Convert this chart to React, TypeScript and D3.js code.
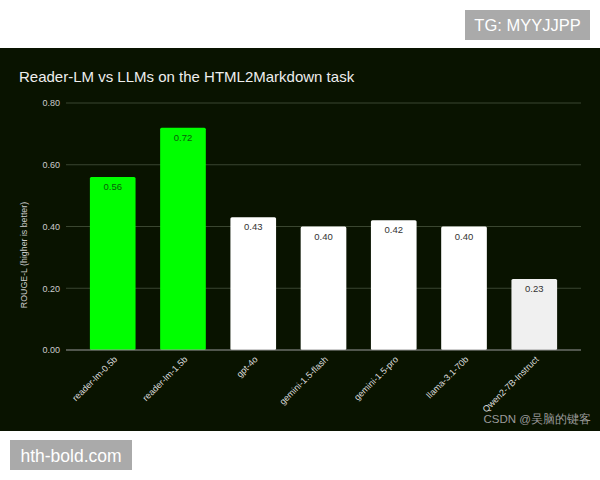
import * as d3 from "d3"
import React from "react"

const models = [
  "reader-lm-0.5b",
  "reader-lm-1.5b",
  "gpt-4o",
  "gemini-1.5-flash",
  "gemini-1.5-pro",
  "llama-3.1-70b",
  "Qwen2-7B-Instruct",
]
const scores = [0.56, 0.72, 0.43, 0.40, 0.42, 0.40, 0.23]
const barColors = ["#00ff00", "#00ff00", "#ffffff", "#ffffff", "#ffffff", "#ffffff", "#f0f0f0"]
const yTicks = [0, 0.2, 0.4, 0.6, 0.8]

const font = "Arial, 'Liberation Sans', Helvetica, sans-serif"

const drawChart = (el: SVGSVGElement) => {
  const width = 600
  const height = 480
  const svg = d3.select(el)
  svg.selectAll("*").remove()

  // white page, dark chart panel
  svg.append("rect").attr("width", width).attr("height", height).attr("fill", "#ffffff")
  svg.append("rect").attr("x", 0).attr("y", 48).attr("width", width).attr("height", 383).attr("fill", "#091300")

  const x = d3.scaleBand<string>()
    .domain(models)
    .range([66, 581])
    .paddingInner(0.35)
    .paddingOuter(0.34)

  const y = d3.scaleLinear().domain([0, 0.8]).range([350, 103])

  svg.append("text")
    .attr("x", 19)
    .attr("y", 82)
    .attr("fill", "#eeeeee")
    .attr("font-family", font)
    .attr("font-size", 15)
    .text("Reader-LM vs LLMs on the HTML2Markdown task")

  const yAxis = d3.axisLeft(y).tickValues(yTicks).tickFormat(d3.format(".2f")).tickSize(0).tickPadding(6)
  svg.append("g")
    .attr("transform", "translate(66,0)")
    .call(yAxis)
    .call((g: any) => g.select(".domain").remove())
    .call((g: any) => g.selectAll(".tick text")
      .attr("fill", "#cccccc")
      .attr("font-family", font)
      .attr("font-size", 9))

  // gridlines
  svg.append("g")
    .selectAll("line")
    .data(yTicks.filter((t) => t > 0))
    .join("line")
    .attr("x1", 66)
    .attr("x2", 581)
    .attr("y1", (d) => y(d))
    .attr("y2", (d) => y(d))
    .attr("stroke", "#3a4630")
    .attr("stroke-width", 1)

  svg.append("text")
    .attr("transform", "translate(27,255) rotate(-90)")
    .attr("text-anchor", "middle")
    .attr("fill", "#cccccc")
    .attr("font-family", font)
    .attr("font-size", 8.8)
    .text("ROUGE-L (higher is better)")

  const bars = svg.append("g")
  bars.selectAll("rect")
    .data(models)
    .join("rect")
    .attr("x", (d) => x(d)!)
    .attr("y", (d, i) => y(scores[i]))
    .attr("width", x.bandwidth())
    .attr("height", (d, i) => y(0) - y(scores[i]))
    .attr("rx", 1.5)
    .attr("fill", (d, i) => barColors[i])

  bars.selectAll("text")
    .data(models)
    .join("text")
    .attr("x", (d) => x(d)! + x.bandwidth() / 2)
    .attr("y", (d, i) => y(scores[i]) + 13)
    .attr("text-anchor", "middle")
    .attr("fill", (d, i) => (i < 2 ? "#0b5d0b" : "#333333"))
    .attr("font-family", font)
    .attr("font-size", 9.5)
    .text((d, i) => d3.format(".2f")(scores[i]))

  // baseline
  svg.append("line")
    .attr("x1", 66)
    .attr("x2", 581)
    .attr("y1", y(0))
    .attr("y2", y(0))
    .attr("stroke", "#9a9a9a")
    .attr("stroke-width", 1)

  svg.append("g")
    .selectAll("text")
    .data(models)
    .join("text")
    .attr("transform", (d) => `translate(${x(d)! + x.bandwidth() / 2 + 5},360) rotate(-45)`)
    .attr("text-anchor", "end")
    .attr("fill", "#dddddd")
    .attr("font-family", font)
    .attr("font-size", 9)
    .text((d) => d)

  svg.append("text")
    .attr("x", 591)
    .attr("y", 423)
    .attr("text-anchor", "end")
    .attr("fill", "#9a9a9a")
    .attr("font-family", font)
    .attr("font-size", 11.5)
    .text("CSDN @吴脑的键客")

  // overlay labels
  svg.append("rect").attr("x", 465).attr("y", 10).attr("width", 125).attr("height", 30).attr("fill", "#aaaaaa")
  svg.append("text")
    .attr("x", 527.5)
    .attr("y", 31)
    .attr("text-anchor", "middle")
    .attr("fill", "#ffffff")
    .attr("font-family", font)
    .attr("font-size", 16.5)
    .text("TG: MYYJJPP")

  svg.append("rect").attr("x", 10).attr("y", 440).attr("width", 122).attr("height", 30).attr("fill", "#aaaaaa")
  svg.append("text")
    .attr("x", 71)
    .attr("y", 461.5)
    .attr("text-anchor", "middle")
    .attr("fill", "#ffffff")
    .attr("font-family", font)
    .attr("font-size", 17.5)
    .text("hth-bold.com")
}

const App = () => {
  const ref = React.useRef<SVGSVGElement>(null)
  React.useEffect(() => {
    if (ref.current) drawChart(ref.current)
  }, [])
  return (
    <svg
      ref={ref}
      width={600}
      height={480}
      style={{ position: "absolute", left: 0, top: 0 }}
    />
  )
}

export default App
